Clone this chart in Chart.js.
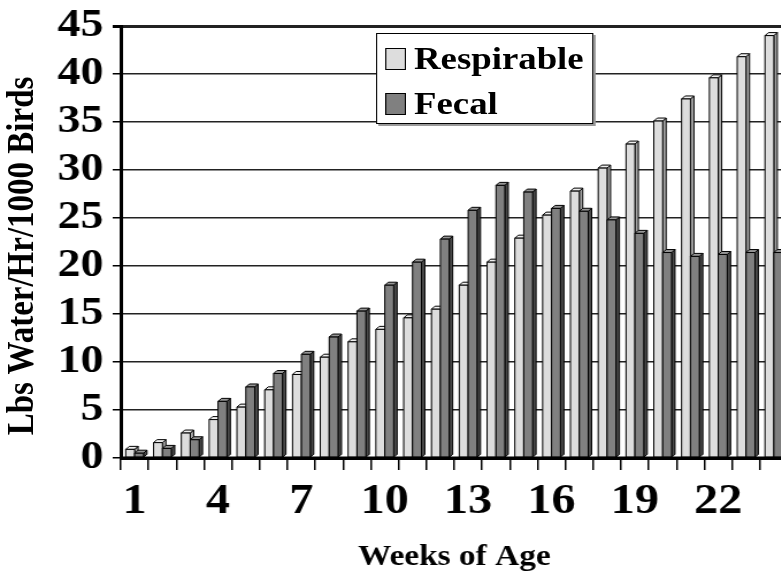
<!DOCTYPE html>
<html>
<head>
<meta charset="utf-8">
<script src="https://cdn.jsdelivr.net/npm/chart.js@4.4.1/dist/chart.umd.min.js"></script>
<style>
  html, body { margin: 0; padding: 0; background: #fff; overflow: hidden; width: 781px; height: 575px; }
  /* the original picture is a bit stretched sideways, so the whole chart is too */
  #wrap { position: relative; width: 690px; height: 575px; transform: scaleX(1.15); transform-origin: 0 0; }
  #legend { position: absolute; left: 327px; top: 33px; width: 187px; height: 89px;
            border: 1.5px solid #000; background: #fff; box-shadow: 2px 2px 0 #9a9a9a;
            font: bold 32px 'Liberation Serif', 'Times New Roman', serif; line-height: 32px; }
  #legend .sw { position: absolute; left: 7px; width: 16px; height: 20px; border: 1px solid #000; }
  #legend .tx { position: absolute; left: 32px; white-space: nowrap; }
  #ytitle { position: absolute; left: -160px; top: 236px; width: 360px; height: 40px; line-height: 40px;
            text-align: center; white-space: nowrap; transform: rotate(-90deg);
            font: bold 33px 'Liberation Serif', 'Times New Roman', serif; color: #000; }
</style>
</head>
<body>
<div id="wrap">
  <canvas id="myChart" width="690" height="575"></canvas>
  <div id="ytitle">Lbs Water/Hr/1000 Birds</div>
  <div id="legend"></div>
</div>
<script>
const weeks = ['1','2','3','4','5','6','7','8','9','10','11','12','13','14','15','16','17','18','19','20','21','22','23','24'];
const shownWeeks = ['1','4','7','10','13','16','19','22'];
const respirable = [0.9, 1.6, 2.6, 4.0, 5.3, 7.1, 8.7, 10.5, 12.1, 13.4, 14.6, 15.5, 18.0, 20.4, 22.9, 25.3, 27.8, 30.2, 32.7, 35.1, 37.4, 39.6, 41.8, 44.0];
const fecal = [0.5, 1.0, 1.9, 5.9, 7.4, 8.8, 10.8, 12.6, 15.3, 18.0, 20.4, 22.8, 25.8, 28.4, 27.7, 26.0, 25.7, 24.8, 23.4, 21.4, 21.0, 21.2, 21.4, 21.4];
const yMax = 45;
const yStep = 5;

const serif = "'Liberation Serif', 'Times New Roman', serif";

// colours for front / top / side of each series
const shades = [
    {front: '#dddddd', top: '#eeeeee', side: '#a8a8a8'},
    {front: '#808080', top: '#969696', side: '#4a4a4a'}
];

// fake 3d look: redraw each column as a little box, category by category
function drawBox(ctx, p, c) {
    const dx = 3, dy = 3;
    const l = p.x - p.width / 2, r = p.x + p.width / 2;
    const t = p.y, b = p.base;
    ctx.save();
    ctx.lineWidth = 1;
    ctx.strokeStyle = '#000';
    ctx.lineJoin = 'round';
    // side
    ctx.beginPath();
    ctx.moveTo(r, t); ctx.lineTo(r + dx, t - dy); ctx.lineTo(r + dx, b - dy); ctx.lineTo(r, b); ctx.closePath();
    ctx.fillStyle = c.side; ctx.fill(); ctx.stroke();
    // top
    ctx.beginPath();
    ctx.moveTo(l, t); ctx.lineTo(l + dx, t - dy); ctx.lineTo(r + dx, t - dy); ctx.lineTo(r, t); ctx.closePath();
    ctx.fillStyle = c.top; ctx.fill(); ctx.stroke();
    // front
    ctx.fillStyle = c.front;
    ctx.fillRect(l, t, r - l, b - t);
    ctx.strokeRect(l, t, r - l, b - t);
    ctx.restore();
}

const boxes3d = {
    id: 'boxes3d',
    afterDatasetsDraw(chart) {
        const ctx = chart.ctx;
        const metas = chart.data.datasets.map((d, i) => chart.getDatasetMeta(i));
        weeks.forEach((w, i) => {
            metas.forEach((meta, k) => {
                const p = meta.data[i].getProps(['x', 'y', 'base', 'width'], true);
                drawBox(ctx, p, shades[k]);
            });
        });
        // floor line over the bar bottoms
        const a = chart.chartArea;
        ctx.save();
        ctx.strokeStyle = '#000';
        ctx.lineWidth = 3;
        ctx.beginPath();
        ctx.moveTo(a.left, a.bottom); ctx.lineTo(a.right + 10, a.bottom);
        ctx.stroke();
        ctx.restore();
    }
};

const ctx = document.getElementById('myChart');

const chart = new Chart(ctx, {
    type: 'bar',
    data: {
        labels: weeks,
        datasets: [{
            label: 'Respirable',
            data: respirable,
            backgroundColor: shades[0].front,
            borderColor: '#000',
            borderWidth: 1
        }, {
            label: 'Fecal',
            data: fecal,
            backgroundColor: shades[1].front,
            borderColor: '#000',
            borderWidth: 1
        }]
    },
    options: {
        responsive: false,
        animation: false,
        devicePixelRatio: 1,
        categoryPercentage: 0.64,
        barPercentage: 1.0,
        layout: { padding: { top: 26, right: 5, left: 0, bottom: 0 } },
        plugins: {
            legend: { display: false },
            tooltip: { enabled: false }
        },
        scales: {
            x: {
                grid: { display: true, drawOnChartArea: false, drawTicks: true, tickLength: 12, color: '#000', lineWidth: 1.5 },
                border: { display: true, color: '#000', width: 3 },
                ticks: {
                    autoSkip: false,
                    maxRotation: 0,
                    padding: 7,
                    color: '#000',
                    font: { family: serif, size: 42, weight: 'bold' },
                    callback: (v, i) => shownWeeks.includes(weeks[i]) ? weeks[i] : ''
                },
                title: {
                    display: true,
                    text: 'Weeks of Age',
                    color: '#000',
                    padding: { top: 0, bottom: 0 },
                    font: { family: serif, size: 29, weight: 'bold' }
                },
                afterFit: (s) => { s.height = 117; }
            },
            y: {
                min: 0,
                max: yMax,
                ticks: {
                    stepSize: yStep,
                    autoSkip: false,
                    padding: 8,
                    color: '#000',
                    font: { family: serif, size: 40, weight: 'bold', lineHeight: 0.9 }
                },
                grid: {
                    color: '#222',
                    lineWidth: (c) => (c.tick && c.tick.value === yMax) ? 3 : 1.5,
                    tickLength: 7,
                    tickColor: '#000'
                },
                border: { display: true, color: '#000', width: 3 },
                title: { display: false },
                afterFit: (s) => { s.width = 105; }
            }
        }
    },
    plugins: [boxes3d]
});

// html legend from the datasets
const legend = document.getElementById('legend');
chart.data.datasets.forEach((d, i) => {
    const top = 14 + i * 45;
    legend.innerHTML += '<div class="sw" style="top:' + top + 'px;background:' + d.backgroundColor + '"></div>' +
        '<div class="tx" style="top:' + (top - 6) + 'px">' + d.label + '</div>';
});
</script>
</body>
</html>
